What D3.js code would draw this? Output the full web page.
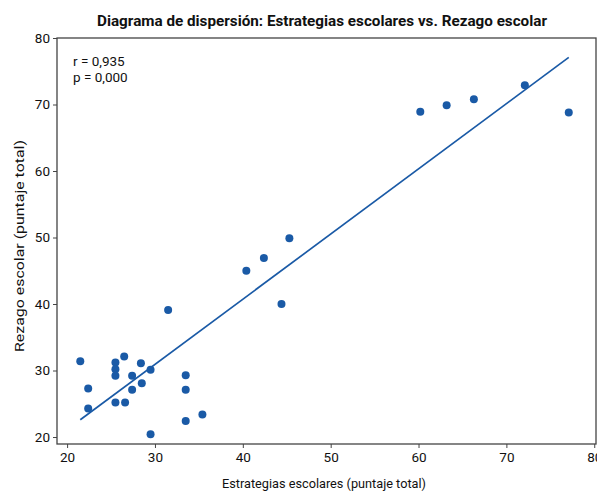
<!DOCTYPE html>
<html>
<head>
<meta charset="utf-8">
<script src="https://cdn.jsdelivr.net/npm/d3@7"></script>
<style>
  body { margin: 0; background: #fff; }
  text { font-family: Roboto, "Noto Sans", sans-serif; fill: #111; }
</style>
</head>
<body>
<div id="body"></div>
<script>
// data
var estrategias = [21.5, 22.4, 22.4, 25.5, 25.5, 25.5, 25.5, 26.5, 26.6, 27.4, 27.4, 28.4, 28.5, 29.5, 29.5,
                   31.5, 33.5, 33.5, 33.5, 35.4, 40.4, 42.4, 44.4, 45.3, 60.2, 63.2, 66.3, 72.1, 77.1];
var rezago      = [31.4, 27.3, 24.3, 31.2, 30.2, 29.2, 25.2, 32.1, 25.2, 29.2, 27.1, 31.1, 28.1, 30.1, 20.4,
                   39.1, 29.3, 27.1, 22.4, 23.4, 45.0, 46.9, 40.0, 49.9, 68.9, 69.9, 70.8, 72.9, 68.8];
var xTicks = [20, 30, 40, 50, 60, 70, 80];
var yTicks = [20, 30, 40, 50, 60, 70, 80];
var fit = { intercept: 1.52, slope: 0.98 };
var stats = ['r = 0,935', 'p = 0,000'];

var width = 597, height = 491;
// plot box edges
var boxL = 57, boxR = 596, boxT = 38, boxB = 444;
var blue = '#1a5aa6';

var svg = d3.select('#body')
    .append('svg')
    .attr('width', width)
    .attr('height', height);

var x = d3.scaleLinear().domain([18.85, 80.2]).range([boxL, boxR]);
var y = d3.scaleLinear().domain([18.95, 80]).range([boxB, boxT]);

// frame
svg.append('rect')
    .attr('x', boxL).attr('y', boxT)
    .attr('width', boxR - boxL).attr('height', boxB - boxT)
    .attr('fill', 'none').attr('stroke', '#444').attr('stroke-width', 1.3);

// axes
var xAxis = svg.append('g')
    .attr('transform', 'translate(0,' + boxB + ')')
    .call(d3.axisBottom(x).tickValues(xTicks).tickSize(4).tickPadding(4));
var yAxis = svg.append('g')
    .attr('transform', 'translate(' + boxL + ',0)')
    .call(d3.axisLeft(y).tickValues(yTicks).tickSize(4).tickPadding(3));
[xAxis, yAxis].forEach(function (a) {
  a.select('.domain').remove();
  a.selectAll('line').attr('stroke', '#444');
  a.selectAll('text').style('font-size', '13.5px').style('font-family', 'Roboto, sans-serif').attr('fill', '#111');
});

// regression line across the data range
var xr = d3.extent(estrategias);
svg.append('line')
    .attr('x1', x(xr[0])).attr('y1', y(fit.intercept + fit.slope * xr[0]))
    .attr('x2', x(xr[1])).attr('y2', y(fit.intercept + fit.slope * xr[1]))
    .attr('stroke', blue).attr('stroke-width', 1.7);

// points
svg.selectAll('circle')
    .data(estrategias)
    .enter().append('circle')
    .attr('cx', function (d) { return x(d); })
    .attr('cy', function (d, i) { return y(rezago[i]); })
    .attr('r', 4)
    .attr('fill', blue);

// stats
svg.selectAll('.stat')
    .data(stats)
    .enter().append('text')
    .attr('class', 'stat')
    .attr('x', 73)
    .attr('y', function (d, i) { return 66 + i * 16; })
    .style('font-size', '13.5px')
    .text(function (d) { return d; });

// title and labels
svg.append('text')
    .attr('x', 322).attr('y', 26)
    .attr('text-anchor', 'middle')
    .attr('textLength', 450).attr('lengthAdjust', 'spacingAndGlyphs')
    .style('font-size', '15.5px').style('font-weight', 'bold')
    .text('Diagrama de dispersión: Estrategias escolares vs. Rezago escolar');

svg.append('text')
    .attr('x', 324).attr('y', 488)
    .attr('text-anchor', 'middle')
    .attr('textLength', 204).attr('lengthAdjust', 'spacingAndGlyphs')
    .style('font-size', '13.5px')
    .text('Estrategias escolares (puntaje total)');

svg.append('text')
    .attr('transform', 'translate(24,246) rotate(-90)')
    .attr('text-anchor', 'middle')
    .attr('textLength', 212).attr('lengthAdjust', 'spacingAndGlyphs')
    .style('font-size', '13.5px')
    .text('Rezago escolar (puntaje total)');
</script>
</body>
</html>
